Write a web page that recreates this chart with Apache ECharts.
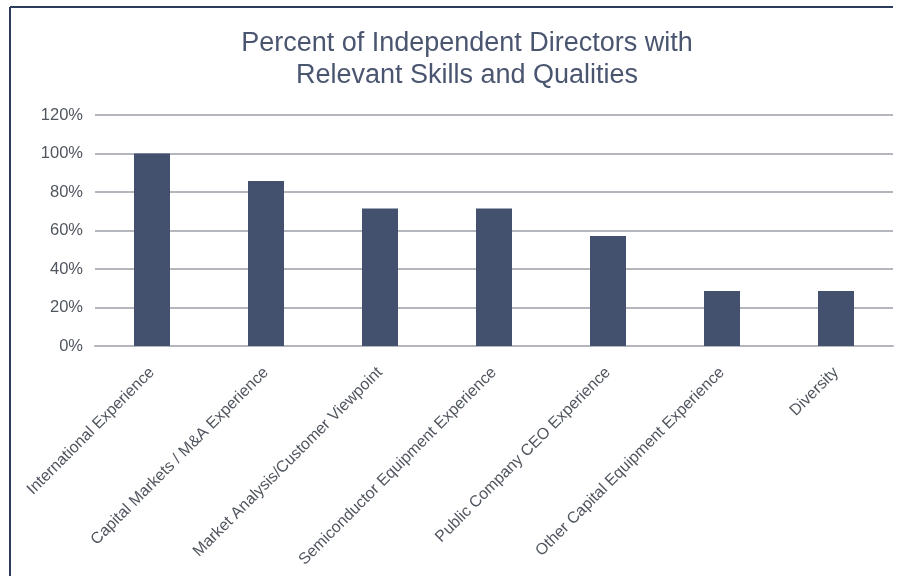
<!DOCTYPE html>
<html><head><meta charset="utf-8">
<script src="https://cdn.jsdelivr.net/npm/echarts@6/dist/echarts.min.js"></script>
<style>html,body{margin:0;padding:0;background:#fff}#c{width:904px;height:576px}</style>
</head><body><div id="c"></div>
<script>
const categories = ["International Experience","Capital Markets / M&A Experience","Market Analysis/Customer Viewpoint","Semiconductor Equipment Experience","Public Company CEO Experience","Other Capital Equipment Experience","Diversity"];
const values = [100, 85.7, 71.4, 71.4, 57.1, 28.6, 28.6];
const yTicks = [0, 20, 40, 60, 80, 100, 120];

const chart = echarts.init(document.getElementById('c'), null, {renderer:'canvas'});
chart.setOption({
  animation:false,
  title:{
    text:'Percent of Independent Directors with\nRelevant Skills and Qualities',
    left:462, top:23, textAlign:'center',
    textStyle:{fontFamily:'Liberation Sans, Arial, sans-serif', fontSize:27, fontWeight:'normal', color:'#4a5570', lineHeight:32}
  },
  graphic:[
    {type:'line', shape:{x1:10,y1:7,x2:893,y2:7}, style:{stroke:'#2c3c5c', lineWidth:2}},
    {type:'line', shape:{x1:10,y1:7,x2:10,y2:576}, style:{stroke:'#2c3c5c', lineWidth:2}}
  ],
  grid:{left:95, right:11, top:115, bottom:230, containLabel:false},
  xAxis:{
    type:'category', data:categories,
    axisLine:{show:true, lineStyle:{color:'#b3b6bd', width:2}},
    axisTick:{show:false},
    axisLabel:{rotate:45, interval:0, margin:24, color:'#50565f', fontFamily:'Liberation Sans, Arial, sans-serif', fontSize:16}
  },
  yAxis:{
    type:'value', min:0, max:120, interval:20,
    axisLine:{show:false}, axisTick:{show:false},
    splitLine:{lineStyle:{color:'#b3b6bd', width:2}},
    axisLabel:{formatter:function(v){return yTicks.indexOf(v)>=0? v+'%':'';}, color:'#50565f', margin:12, fontFamily:'Liberation Sans, Arial, sans-serif', fontSize:16.5}
  },
  series:[{
    type:'bar', data:values, barWidth:36,
    itemStyle:{color:'#43516f'}
  }]
});
</script></body></html>
